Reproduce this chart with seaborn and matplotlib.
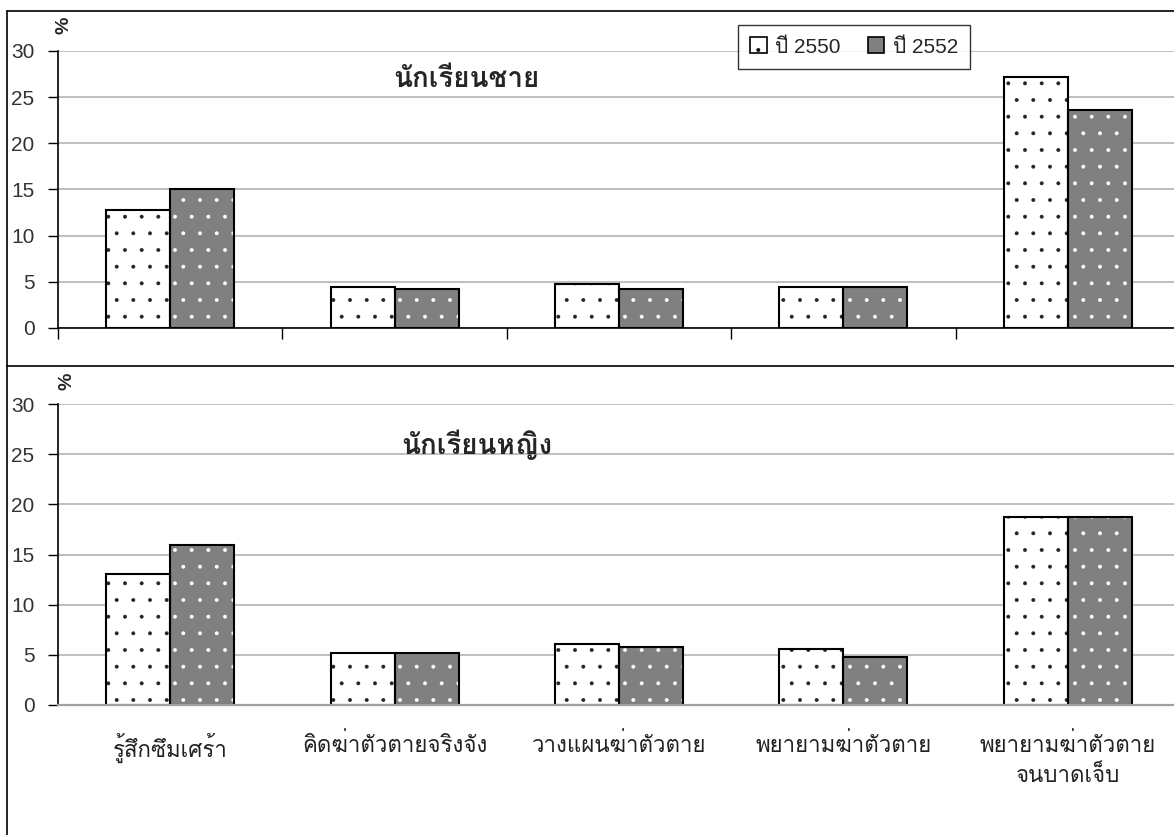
import pandas as pd
import matplotlib
matplotlib.use('Agg')
import matplotlib.pyplot as plt
import seaborn as sns
from matplotlib import font_manager
from matplotlib.patches import Patch, Rectangle
from matplotlib.lines import Line2D
from fontTools.ttLib import TTFont

categories = ['รู้สึกซึมเศร้า', 'คิดฆ่าตัวตายจริงจัง', 'วางแผนฆ่าตัวตาย',
              'พยายามฆ่าตัวตาย', 'พยายามฆ่าตัวตาย\nจนบาดเจ็บ']
years = ['ปี 2550', 'ปี 2552']
male_2550 = [12.8, 4.4, 4.8, 4.4, 27.2]
male_2552 = [15.0, 4.2, 4.2, 4.4, 23.6]
female_2550 = [13.1, 5.2, 6.1, 5.6, 18.7]
female_2552 = [15.9, 5.2, 5.8, 4.8, 18.7]
y_ticks = [0, 5, 10, 15, 20, 25, 30]


def thai_family():
    # look for any installed font that has Thai glyphs
    for f in font_manager.fontManager.ttflist:
        try:
            tt = TTFont(f.fname, fontNumber=0, lazy=True)
            if 0x0E01 in tt.getBestCmap():
                return f.name
        except Exception:
            pass
    return 'DejaVu Sans'


sns.set_style('white')
plt.rcParams['font.family'] = ['Liberation Sans', thai_family(), 'DejaVu Sans']
plt.rcParams['hatch.linewidth'] = 0.35

W, H = 1174, 835
fig = plt.figure(figsize=(W / 100, H / 100), dpi=100)


def px_axes(x0, x1, y_top, y_bot):
    return fig.add_axes([x0 / W, 1 - y_bot / H, (x1 - x0) / W, (y_bot - y_top) / H])


def long_df(a, b):
    return pd.DataFrame({
        'cat': categories * 2,
        'year': [years[0]] * len(categories) + [years[1]] * len(categories),
        'value': a + b,
    })


def draw_panel(ax, a, b, top_panel):
    sns.barplot(data=long_df(a, b), x='cat', y='value', hue='year',
                hue_order=years, order=categories, width=0.57, gap=0,
                legend=False, ax=ax, errorbar=None)
    styles = [('white', '#222222'), ('#808080', 'white')]
    for container, (fc, hc) in zip(ax.containers, styles):
        for bar in container:
            bar.set_facecolor(fc)
            bar.set_edgecolor(hc)
            bar.set_linewidth(0)
            bar.set_hatch('.')
            ax.add_patch(Rectangle(bar.get_xy(), bar.get_width(), bar.get_height(),
                                   fill=False, edgecolor='black', linewidth=1.5,
                                   zorder=bar.get_zorder() + 0.1))
    ax.set_ylim(0, 30)
    ax.set_xlim(-0.5, len(categories) - 0.5)
    ax.set_yticks(y_ticks)
    ax.set_yticklabels([str(t) for t in y_ticks], fontsize=15, color='#333333')
    ax.yaxis.grid(True, color='#b4b4b4', linewidth=1.2)
    ax.set_axisbelow(True)
    ax.tick_params(axis='y', length=7, width=1, color='black', direction='out',
                   left=True, pad=10)
    for s in ['top', 'right']:
        ax.spines[s].set_visible(False)
    ax.spines['left'].set_color('black')
    ax.spines['left'].set_linewidth(1.2)
    ax.set_xlabel('')
    ax.set_ylabel('')
    if top_panel:
        ax.spines['bottom'].set_color('black')
        ax.spines['bottom'].set_linewidth(1.2)
        ax.set_xticks([i - 0.5 for i in range(len(categories) + 1)])
        ax.set_xticklabels([])
        ax.tick_params(axis='x', length=8, width=1, color='black', direction='out',
                       bottom=True)
    else:
        ax.spines['bottom'].set_color('#a0a0a0')
        ax.spines['bottom'].set_linewidth(1.6)
        ax.set_xticks(range(len(categories)))
        ax.set_xticklabels(categories, fontsize=16, color='#222222', linespacing=1.5)
        ax.tick_params(axis='x', length=0, pad=20)


ax1 = px_axes(58, 1180, 51, 328)
draw_panel(ax1, male_2550, male_2552, True)
ax2 = px_axes(58, 1180, 404, 705)
draw_panel(ax2, female_2550, female_2552, False)

# panel titles and unit labels
fig.text(466 / W, 1 - 80 / H, 'นักเรียนชาย', fontsize=20, fontweight='bold',
         ha='center', va='center')
fig.text(477 / W, 1 - 445 / H, 'นักเรียนหญิง', fontsize=20, fontweight='bold',
         ha='center', va='center')
fig.text(64 / W, 1 - 25 / H, '%', fontsize=14, fontweight='bold', rotation=90,
         ha='center', va='center')
fig.text(67 / W, 1 - 381 / H, '%', fontsize=14, fontweight='bold', rotation=90,
         ha='center', va='center')

# legend
handles = [Patch(facecolor='white', edgecolor='black', hatch='.', linewidth=1.2),
           Patch(facecolor='#808080', edgecolor='black', linewidth=1.2)]
leg = fig.legend(handles, years, loc='center', ncol=2,
                 bbox_to_anchor=(854 / W, 1 - 47 / H), fontsize=15,
                 frameon=True, fancybox=False, edgecolor='black',
                 handlelength=0.8, handleheight=0.8, handletextpad=0.4,
                 columnspacing=1.3, borderpad=0.6)
leg.get_frame().set_linewidth(1.0)
leg.set_zorder(10)

# outer frames around the two panels
for xs, ys in [([7, 7], [11, H]), ([7, W], [11, 11]), ([7, W], [366, 366])]:
    fig.add_artist(Line2D([x / W for x in xs], [1 - y / H for y in ys],
                          color='black', linewidth=1.2, transform=fig.transFigure))

plt.savefig('out.png', dpi=100)
plt.close()
